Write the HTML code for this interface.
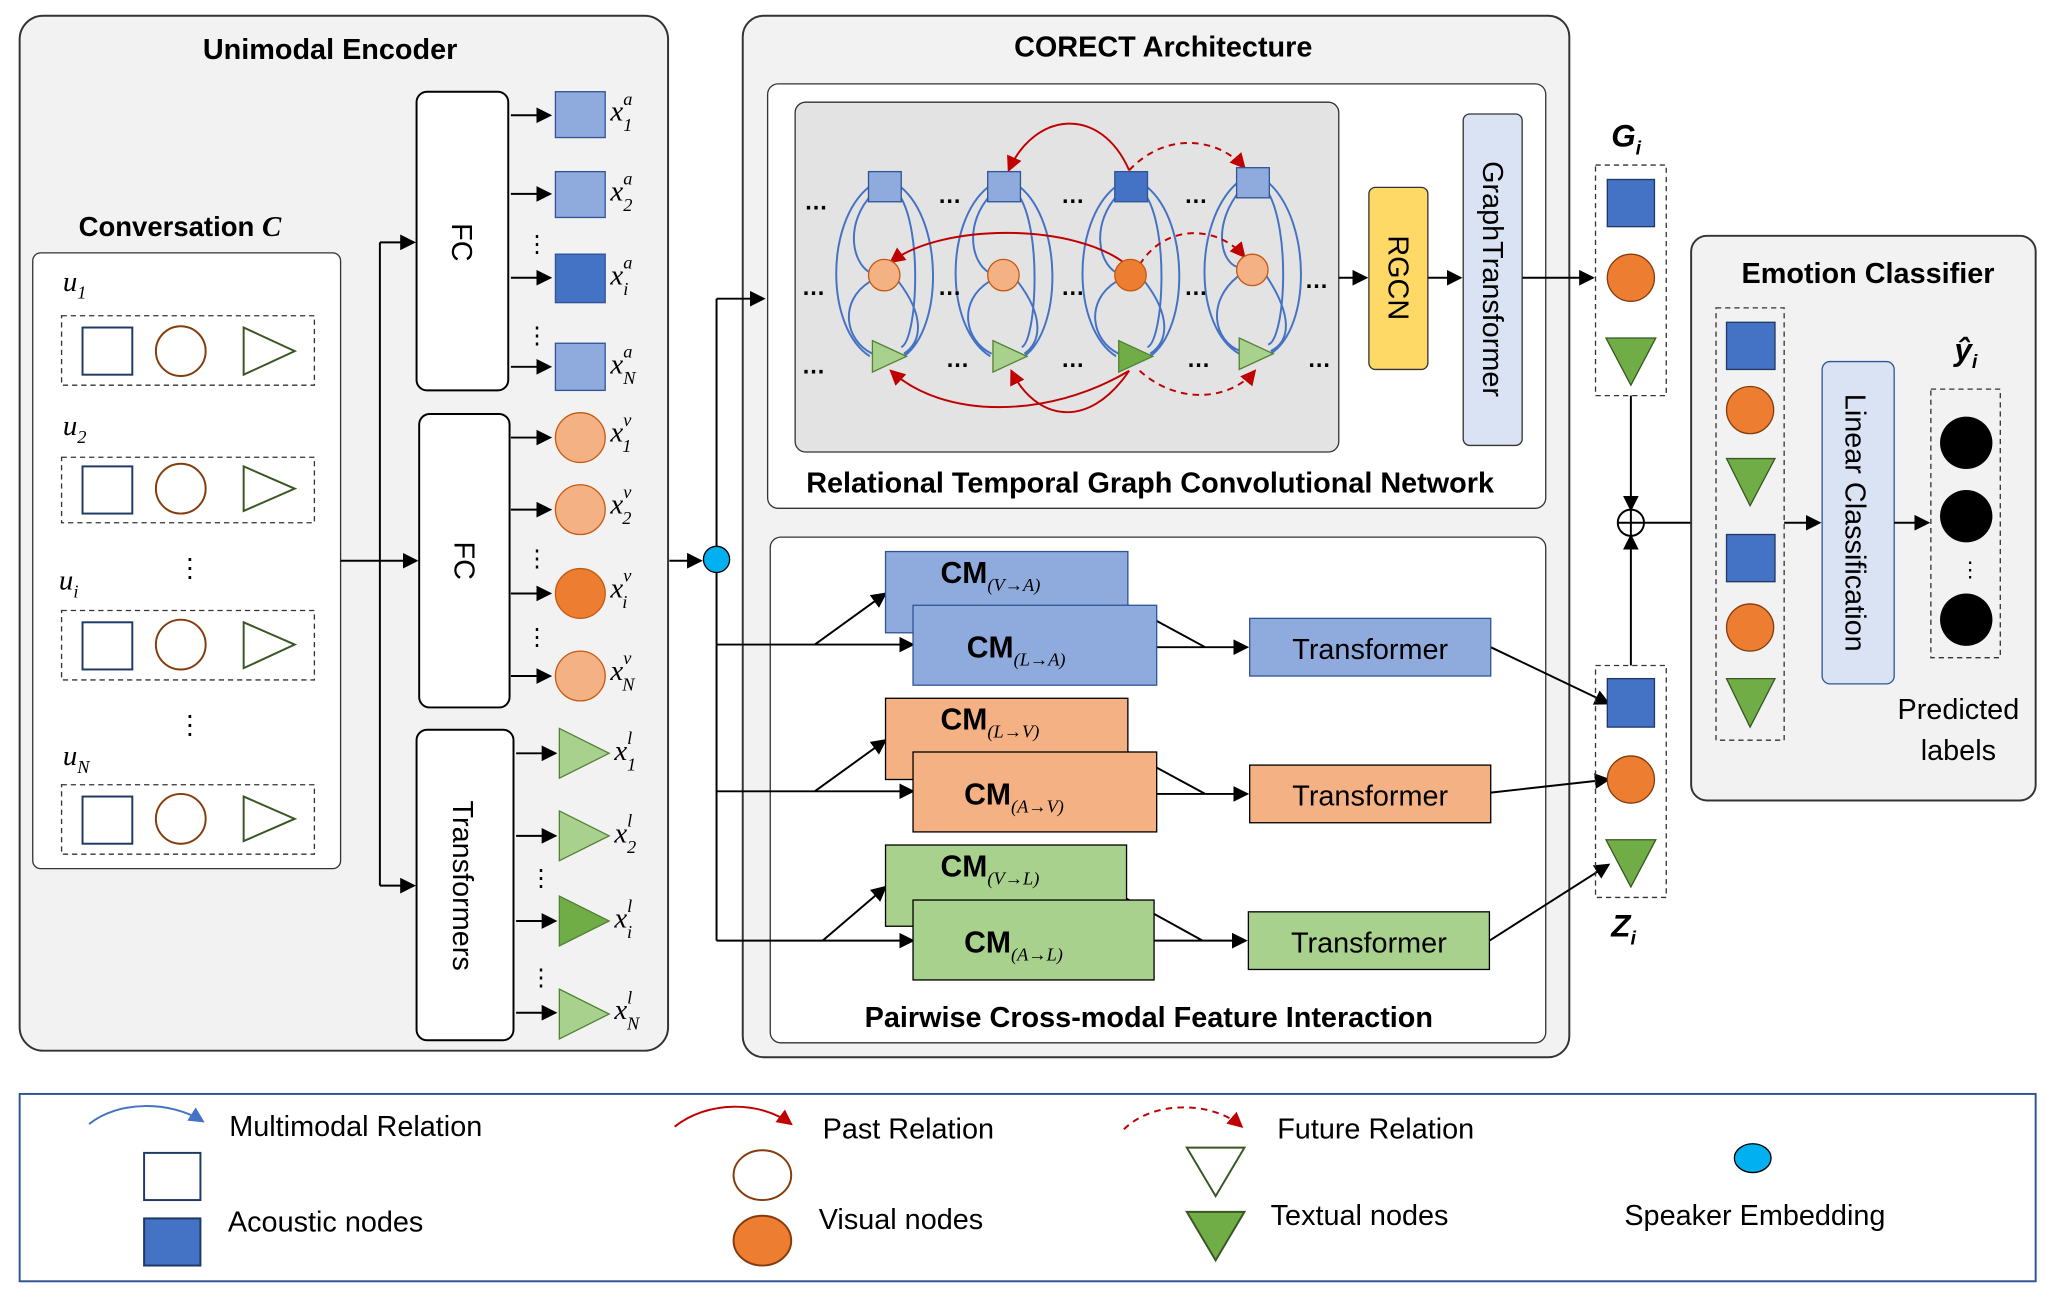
<!DOCTYPE html>
<html><head><meta charset="utf-8"><style>
html,body{margin:0;padding:0;background:#fff}
svg{display:block}
text{font-family:"Liberation Sans",sans-serif}
.t{font-weight:bold;font-size:22px;text-anchor:middle}
.m{font-family:"Liberation Serif",serif;font-style:italic;font-size:22px}
.s{font-family:"Liberation Serif",serif;font-style:italic;font-size:14px}
.l{font-size:22px}
</style></head><body>
<svg width="2054" height="1297" viewBox="0 0 1568 990" preserveAspectRatio="none" xmlns="http://www.w3.org/2000/svg">
<defs>
<marker id="a" markerWidth="8" markerHeight="8" refX="7" refY="4" orient="auto"><path d="M0,0 L8,4 L0,8 z" fill="#000"/></marker>
<marker id="ar" markerWidth="8" markerHeight="8" refX="7" refY="4" orient="auto"><path d="M0,0 L8,4 L0,8 z" fill="#c00000"/></marker>
<marker id="ab" markerWidth="8" markerHeight="8" refX="7" refY="4" orient="auto"><path d="M0,0 L8,4 L0,8 z" fill="#4472c4"/></marker>
</defs>
<rect width="1568" height="990" fill="#fff"/>
<!-- Unimodal Encoder -->
<rect x="15" y="12" width="495" height="790" rx="18" fill="#f2f2f2" stroke="#333" stroke-width="1.5"/>
<text x="252" y="45" class="t">Unimodal Encoder</text>
<text x="60" y="180" font-size="21" font-weight="bold">Conversation <tspan class="m" font-weight="bold">C</tspan></text>
<rect x="25" y="193" width="235" height="470" rx="6" fill="#fff" stroke="#333"/>
<g stroke="#333" stroke-dasharray="4,3" fill="none">
<rect x="47" y="241" width="193" height="53"/><rect x="47" y="349" width="193" height="50"/>
<rect x="47" y="466" width="193" height="53"/><rect x="47" y="599" width="193" height="53"/></g>
<g>
<text x="48" y="222" class="m">u<tspan class="s" dy="6">1</tspan></text>
<text x="48" y="332" class="m">u<tspan class="s" dy="6">2</tspan></text>
<text x="45" y="450" class="m">u<tspan class="s" dy="6">i</tspan></text>
<text x="48" y="584" class="m">u<tspan class="s" dy="6">N</tspan></text>
<text x="135" y="440" font-size="20">⋮</text><text x="135" y="560" font-size="20">⋮</text>
</g>
<g fill="none" stroke-width="1.5">
<rect x="63" y="250" width="38" height="36" stroke="#1f3864"/><circle cx="138" cy="268" r="19" stroke="#843c0c"/><path d="M186,250 L225,268 L186,286z" stroke="#385723"/>
<rect x="63" y="356" width="38" height="36" stroke="#1f3864"/><circle cx="138" cy="373" r="19" stroke="#843c0c"/><path d="M186,356 L225,373 L186,390z" stroke="#385723"/>
<rect x="63" y="475" width="38" height="36" stroke="#1f3864"/><circle cx="138" cy="492" r="19" stroke="#843c0c"/><path d="M186,475 L225,492 L186,510z" stroke="#385723"/>
<rect x="63" y="608" width="38" height="36" stroke="#1f3864"/><circle cx="138" cy="625" r="19" stroke="#843c0c"/><path d="M186,608 L225,625 L186,642z" stroke="#385723"/>
</g>
<g stroke="#000" stroke-width="1.5" fill="none">
<path d="M260,428 H318" marker-end="url(#a)"/><path d="M290,185 V676"/>
<path d="M290,185 H316" marker-end="url(#a)"/><path d="M290,676 H316" marker-end="url(#a)"/>
</g>
<rect x="318" y="70" width="70" height="228" rx="8" fill="#fff" stroke="#000" stroke-width="1.5"/>
<rect x="320" y="316" width="69" height="224" rx="8" fill="#fff" stroke="#000" stroke-width="1.5"/>
<rect x="318" y="557" width="74" height="237" rx="8" fill="#fff" stroke="#000" stroke-width="1.5"/>
<text transform="translate(345,185) rotate(90)" class="l" text-anchor="middle">FC</text>
<text transform="translate(347,428) rotate(90)" class="l" text-anchor="middle">FC</text>
<text transform="translate(346,676) rotate(90)" class="l" text-anchor="middle">Transformers</text>
<g stroke="#000" stroke-width="1.5">
<path d="M390,88 H420" marker-end="url(#a)"/><path d="M390,148 H420" marker-end="url(#a)"/><path d="M390,212 H420" marker-end="url(#a)"/><path d="M390,280 H420" marker-end="url(#a)"/>
<path d="M390,334 H420" marker-end="url(#a)"/><path d="M390,389 H420" marker-end="url(#a)"/><path d="M390,453 H420" marker-end="url(#a)"/><path d="M390,516 H420" marker-end="url(#a)"/>
<path d="M394,575 H424" marker-end="url(#a)"/><path d="M394,638 H424" marker-end="url(#a)"/><path d="M394,703 H424" marker-end="url(#a)"/><path d="M394,773 H424" marker-end="url(#a)"/>
</g>
<g stroke="#2f5597" stroke-width="1">
<rect x="424" y="70" width="38" height="35" fill="#8faadc"/><rect x="424" y="131" width="38" height="35" fill="#8faadc"/>
<rect x="424" y="194" width="38" height="37" fill="#4472c4"/><rect x="424" y="262" width="38" height="36" fill="#8faadc"/></g>
<g stroke="#c55a11"><circle cx="443" cy="334" r="19" fill="#f4b183"/><circle cx="443" cy="389" r="19" fill="#f4b183"/><circle cx="443" cy="453" r="19" fill="#ed7d31"/><circle cx="443" cy="516" r="19" fill="#f4b183"/></g>
<g stroke="#548235"><path d="M427,556 L465,575 L427,594z" fill="#a9d18e"/><path d="M427,619 L465,638 L427,657z" fill="#a9d18e"/><path d="M427,684 L465,703 L427,722z" fill="#70ad47"/><path d="M427,755 L465,774 L427,793z" fill="#a9d18e"/></g>
<g font-size="18"><text x="401" y="192">⋮</text><text x="401" y="262">⋮</text><text x="401" y="432">⋮</text><text x="401" y="492">⋮</text><text x="404" y="676">⋮</text><text x="404" y="752">⋮</text></g>
<g class="m">
<text x="466" y="92" class="m">x<tspan class="s" dy="-12">a</tspan><tspan class="s" dx="-7" dy="20">1</tspan></text>
<text x="466" y="153" class="m">x<tspan class="s" dy="-12">a</tspan><tspan class="s" dx="-7" dy="20">2</tspan></text>
<text x="466" y="217" class="m">x<tspan class="s" dy="-12">a</tspan><tspan class="s" dx="-7" dy="20">i</tspan></text>
<text x="466" y="285" class="m">x<tspan class="s" dy="-12">a</tspan><tspan class="s" dx="-7" dy="20">N</tspan></text>
<text x="466" y="337" class="m">x<tspan class="s" dy="-12">v</tspan><tspan class="s" dx="-7" dy="20">1</tspan></text>
<text x="466" y="392" class="m">x<tspan class="s" dy="-12">v</tspan><tspan class="s" dx="-7" dy="20">2</tspan></text>
<text x="466" y="456" class="m">x<tspan class="s" dy="-12">v</tspan><tspan class="s" dx="-7" dy="20">i</tspan></text>
<text x="466" y="519" class="m">x<tspan class="s" dy="-12">v</tspan><tspan class="s" dx="-7" dy="20">N</tspan></text>
<text x="469" y="580" class="m">x<tspan class="s" dy="-12">l</tspan><tspan class="s" dx="-4" dy="20">1</tspan></text>
<text x="469" y="643" class="m">x<tspan class="s" dy="-12">l</tspan><tspan class="s" dx="-4" dy="20">2</tspan></text>
<text x="469" y="708" class="m">x<tspan class="s" dy="-12">l</tspan><tspan class="s" dx="-4" dy="20">i</tspan></text>
<text x="469" y="778" class="m">x<tspan class="s" dy="-12">l</tspan><tspan class="s" dx="-4" dy="20">N</tspan></text>
</g>
<!-- speaker -->
<path d="M511,428 H535" stroke="#000" stroke-width="1.5" marker-end="url(#a)"/>
<!-- CORECT -->
<rect x="567" y="12" width="631" height="795" rx="16" fill="#f2f2f2" stroke="#333" stroke-width="1.5"/>
<text x="888" y="43" class="t" font-size="24">CORECT Architecture</text>
<rect x="586" y="64" width="594" height="324" rx="8" fill="#fff" stroke="#333"/>
<rect x="607" y="78" width="415" height="267" rx="8" fill="#e3e3e3" stroke="#333"/>
<text x="878" y="376" class="t" font-size="21">Relational Temporal Graph Convolutional Network</text>
<rect x="588" y="410" width="592" height="386" rx="8" fill="#fff" stroke="#333"/>
<text x="877" y="784" class="t" font-size="21">Pairwise Cross-modal Feature Interaction</text>
<g stroke="#000" stroke-width="1.5" fill="none">
<path d="M547,228 V718"/><path d="M547,228 H583" marker-end="url(#a)"/>
<path d="M547,492 H697" marker-end="url(#a)"/><path d="M622,492 L676,453" marker-end="url(#a)"/>
<path d="M547,604 H697" marker-end="url(#a)"/><path d="M622,604 L676,565" marker-end="url(#a)"/>
<path d="M547,718 H697" marker-end="url(#a)"/><path d="M628,718 L676,677" marker-end="url(#a)"/>
<path d="M861,462 L920,494 M883,494 H952" marker-end="url(#a)"/>
<path d="M861,574 L920,606 M883,606 H952" marker-end="url(#a)"/>
<path d="M860,686 L918,718 M881,718 H951" marker-end="url(#a)"/>
<path d="M1138,494 L1228,537" marker-end="url(#a)"/><path d="M1138,605 L1228,595" marker-end="url(#a)"/><path d="M1137,718 L1228,660" marker-end="url(#a)"/>
<path d="M1162,212 H1216" marker-end="url(#a)"/><path d="M1090,212 H1115" marker-end="url(#a)"/><path d="M1022,212 H1043" marker-end="url(#a)"/>
</g>
<circle cx="547" cy="427" r="10" fill="#00b0f0" stroke="#000"/>
<g stroke="#2f5597">
<rect x="676" y="421" width="185" height="62" fill="#8faadc"/><rect x="697" y="462" width="186" height="61" fill="#8faadc"/><rect x="954" y="472" width="184" height="44" fill="#8faadc"/>
<rect x="676" y="533" width="185" height="62" fill="#f4b183" stroke="#000"/><rect x="697" y="574" width="186" height="61" fill="#f4b183" stroke="#000"/><rect x="954" y="584" width="184" height="44" fill="#f4b183" stroke="#000"/>
<rect x="676" y="645" width="184" height="62" fill="#a9d18e" stroke="#000"/><rect x="697" y="687" width="184" height="61" fill="#a9d18e" stroke="#000"/><rect x="953" y="696" width="184" height="44" fill="#a9d18e" stroke="#000"/>
</g>
<g font-family="Liberation Serif,serif" font-weight="bold" font-size="23">
<text x="718" y="445">CM<tspan class="s" font-weight="normal" dy="6">(V→A)</tspan></text>
<text x="738" y="502">CM<tspan class="s" font-weight="normal" dy="6">(L→A)</tspan></text>
<text x="718" y="557">CM<tspan class="s" font-weight="normal" dy="6">(L→V)</tspan></text>
<text x="736" y="614">CM<tspan class="s" font-weight="normal" dy="6">(A→V)</tspan></text>
<text x="718" y="669">CM<tspan class="s" font-weight="normal" dy="6">(V→L)</tspan></text>
<text x="736" y="727">CM<tspan class="s" font-weight="normal" dy="6">(A→L)</tspan></text>
</g>
<g class="l" text-anchor="middle"><text x="1046" y="503" text-anchor="middle">Transformer</text><text x="1046" y="615" text-anchor="middle">Transformer</text><text x="1045" y="727" text-anchor="middle">Transformer</text></g>
<rect x="1045" y="143" width="45" height="139" rx="5" fill="#ffd966" stroke="#333"/>
<text transform="translate(1060,212) rotate(90)" class="l" text-anchor="middle">RGCN</text>
<rect x="1117" y="87" width="45" height="253" rx="5" fill="#dae3f3" stroke="#333"/>
<text transform="translate(1132,213) rotate(90)" class="l" text-anchor="middle">GraphTransformer</text>
<!-- graph -->
<g fill="none" stroke="#4472c4" stroke-width="1.5">
<path d="M663,143 C630,170 630,250 664,272 M688,143 C720,170 720,250 690,272 M666,148 C645,170 650,200 664,208 M686,148 C705,175 700,260 688,265 M664,215 C640,230 645,260 666,270 M686,215 C705,240 705,260 690,270"/>
<path d="M754,143 C721,170 721,250 756,272 M779,143 C811,170 811,250 782,272 M757,148 C736,170 741,200 755,208 M777,148 C796,175 791,260 780,265 M755,215 C731,230 736,260 757,270 M777,215 C796,240 796,260 782,270"/>
<path d="M851,143 C818,170 818,250 852,272 M876,143 C908,170 908,250 878,272 M854,148 C833,170 838,200 852,208 M874,148 C893,175 888,260 876,265 M852,215 C828,230 833,260 854,270 M874,215 C893,240 893,260 878,270"/>
<path d="M944,140 C911,170 911,250 946,270 M969,140 C1001,170 1001,250 970,270 M947,145 C926,170 931,200 945,204 M967,145 C986,175 981,260 968,263 M945,211 C921,230 926,260 947,268 M967,211 C986,240 986,260 970,268"/>
</g>
<g fill="none" stroke="#c00000" stroke-width="1.5">
<path d="M862,130 C840,80 790,85 770,130" marker-end="url(#ar)"/>
<path d="M862,130 C890,100 930,105 950,128" stroke-dasharray="5,4" marker-end="url(#ar)"/>
<path d="M860,202 C820,170 720,170 680,200" marker-end="url(#ar)"/>
<path d="M870,202 C890,170 930,172 950,196" stroke-dasharray="5,4" marker-end="url(#ar)"/>
<path d="M862,283 C830,330 790,320 772,283" marker-end="url(#ar)"/>
<path d="M862,283 C800,320 720,320 680,283" marker-end="url(#ar)"/>
<path d="M870,283 C900,310 940,305 958,283" stroke-dasharray="5,4" marker-end="url(#ar)"/>
</g>
<g stroke="#2f5597"><rect x="663" y="131" width="25" height="23" fill="#8faadc"/><rect x="754" y="131" width="25" height="23" fill="#8faadc"/><rect x="851" y="131" width="25" height="23" fill="#4472c4"/><rect x="944" y="128" width="25" height="23" fill="#8faadc"/></g>
<g stroke="#c55a11"><circle cx="675" cy="210" r="12" fill="#f4b183"/><circle cx="766" cy="210" r="12" fill="#f4b183"/><circle cx="863" cy="210" r="12" fill="#ed7d31"/><circle cx="956" cy="206" r="12" fill="#f4b183"/></g>
<g stroke="#548235"><path d="M666,260 L692,272 L666,284z" fill="#a9d18e"/><path d="M758,260 L784,272 L758,284z" fill="#a9d18e"/><path d="M854,260 L880,272 L854,284z" fill="#70ad47"/><path d="M946,258 L972,270 L946,282z" fill="#a9d18e"/></g>
<g font-size="18" font-weight="bold"><text x="614" y="160">…</text><text x="612" y="225">…</text><text x="612" y="285">…</text><text x="716" y="155">…</text><text x="716" y="225">…</text><text x="722" y="280">…</text><text x="810" y="155">…</text><text x="810" y="225">…</text><text x="810" y="280">…</text><text x="904" y="155">…</text><text x="904" y="225">…</text><text x="906" y="280">…</text><text x="996" y="220">…</text><text x="998" y="280">…</text></g>
<!-- G and Z -->
<text x="1230" y="112" font-family="Liberation Serif,serif" font-weight="bold" font-style="italic" font-size="24">G<tspan font-size="15" dy="6">i</tspan></text>
<text x="1230" y="715" font-family="Liberation Serif,serif" font-weight="bold" font-style="italic" font-size="24">Z<tspan font-size="15" dy="6">i</tspan></text>
<g stroke="#333" stroke-dasharray="4,3" fill="none"><rect x="1218" y="126" width="54" height="176"/><rect x="1218" y="508" width="54" height="177"/></g>
<g stroke="#1f3864"><rect x="1227" y="137" width="36" height="36" fill="#4472c4"/><rect x="1227" y="518" width="36" height="37" fill="#4472c4"/></g>
<g stroke="#843c0c"><circle cx="1245" cy="212" r="18" fill="#ed7d31"/><circle cx="1245" cy="595" r="18" fill="#ed7d31"/></g>
<g stroke="#385723"><path d="M1226,258 L1264,258 L1245,294z" fill="#70ad47"/><path d="M1226,641 L1264,641 L1245,677z" fill="#70ad47"/></g>
<g stroke="#000" stroke-width="1.5" fill="none">
<path d="M1245,302 V389" marker-end="url(#a)"/><path d="M1245,508 V409" marker-end="url(#a)"/>
<circle cx="1245" cy="399" r="10" fill="#fff"/><path d="M1235,399 H1255 M1245,389 V409"/>
<path d="M1255,399 H1308" marker-end="url(#a)"/>
</g>
<!-- Emotion classifier -->
<rect x="1291" y="180" width="263" height="431" rx="12" fill="#f2f2f2" stroke="#333" stroke-width="1.5"/>
<text x="1426" y="216" class="t" font-size="22">Emotion Classifier</text>
<rect x="1310" y="235" width="52" height="330" fill="none" stroke="#333" stroke-dasharray="4,3"/>
<g stroke="#1f3864"><rect x="1318" y="246" width="37" height="36" fill="#4472c4"/><rect x="1318" y="408" width="37" height="36" fill="#4472c4"/></g>
<g stroke="#843c0c"><circle cx="1336" cy="313" r="18" fill="#ed7d31"/><circle cx="1336" cy="479" r="18" fill="#ed7d31"/></g>
<g stroke="#385723"><path d="M1318,350 L1355,350 L1336,386z" fill="#70ad47"/><path d="M1318,518 L1355,518 L1336,555z" fill="#70ad47"/></g>
<path d="M1362,399 H1389" stroke="#000" stroke-width="1.5" marker-end="url(#a)"/>
<rect x="1391" y="276" width="55" height="246" rx="6" fill="#dae3f3" stroke="#2f5597"/>
<text transform="translate(1409,399) rotate(90)" class="l" text-anchor="middle">Linear Classification</text>
<path d="M1446,399 H1472" stroke="#000" stroke-width="1.5" marker-end="url(#a)"/>
<rect x="1474" y="297" width="53" height="205" fill="none" stroke="#333" stroke-dasharray="4,3"/>
<circle cx="1501" cy="338" r="20"/><circle cx="1501" cy="394" r="20"/><circle cx="1501" cy="473" r="20"/>
<text x="1496" y="440" font-size="16">⋮</text>
<text x="1492" y="275" font-family="Liberation Serif,serif" font-weight="bold" font-style="italic" font-size="24">ŷ<tspan font-size="15" dy="6">i</tspan></text>
<text x="1495" y="549" class="l" text-anchor="middle">Predicted</text>
<text x="1495" y="580" class="l" text-anchor="middle">labels</text>
<!-- legend -->
<rect x="15" y="835" width="1539" height="143" fill="#fff" stroke="#2f5597" stroke-width="1.5"/>
<path d="M68,858 C90,840 130,840 155,856" fill="none" stroke="#4472c4" stroke-width="1.5" marker-end="url(#ab)"/>
<text x="175" y="867" class="l">Multimodal Relation</text>
<path d="M515,860 C540,840 580,840 604,858" fill="none" stroke="#c00000" stroke-width="1.5" marker-end="url(#ar)"/>
<text x="628" y="869" class="l">Past Relation</text>
<path d="M858,862 C880,840 925,840 948,860" fill="none" stroke="#c00000" stroke-width="1.5" stroke-dasharray="5,4" marker-end="url(#ar)"/>
<text x="975" y="869" class="l">Future Relation</text>
<rect x="110" y="880" width="43" height="36" fill="#fff" stroke="#1f3864" stroke-width="1.5"/>
<rect x="110" y="930" width="43" height="36" fill="#4472c4" stroke="#1f3864" stroke-width="1.5"/>
<text x="174" y="940" class="l">Acoustic nodes</text>
<ellipse cx="582" cy="897" rx="22" ry="19" fill="#fff" stroke="#843c0c" stroke-width="1.5"/>
<ellipse cx="582" cy="947" rx="22" ry="19" fill="#ed7d31" stroke="#843c0c" stroke-width="1.5"/>
<text x="625" y="938" class="l">Visual nodes</text>
<path d="M906,876 L950,876 L928,913z" fill="#fff" stroke="#385723" stroke-width="1.5"/>
<path d="M906,925 L950,925 L928,962z" fill="#70ad47" stroke="#385723" stroke-width="1.5"/>
<text x="970" y="935" class="l">Textual nodes</text>
<ellipse cx="1338" cy="884" rx="14" ry="11" fill="#00b0f0" stroke="#000"/>
<text x="1240" y="935" class="l">Speaker Embedding</text>
</svg>
</body></html>
